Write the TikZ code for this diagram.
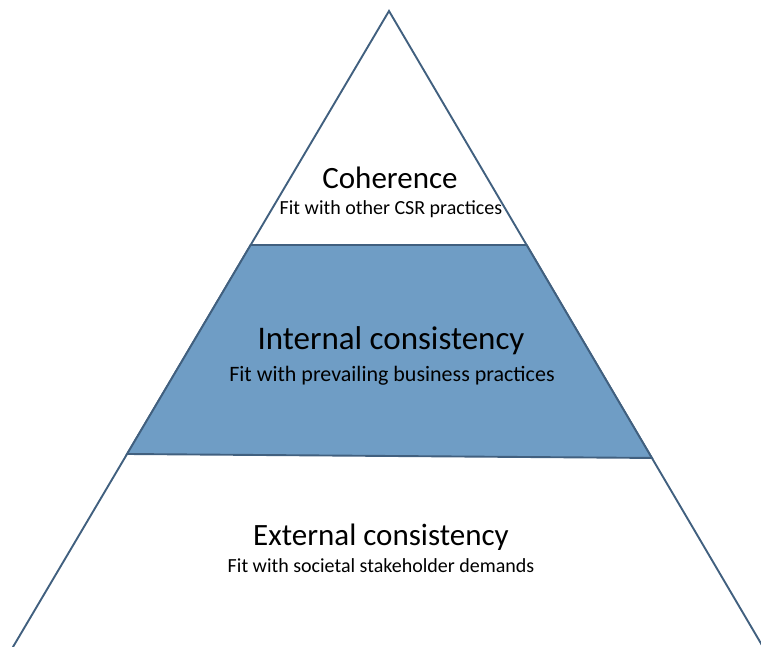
\documentclass[tikz,border=0pt]{standalone}
\usepackage{fontspec}
\usetikzlibrary{calc}
\setmainfont{Carlito}
\definecolor{edge}{HTML}{41607F}
\definecolor{band}{HTML}{6F9DC5}
\begin{document}
\begin{tikzpicture}[x=1pt,y=-1pt,
  outline/.style={draw=edge,line width=1.9pt,line join=miter},
  title/.style={inner sep=0pt,font=\fontsize{31}{34}\selectfont,text=black},
  sub/.style={inner sep=0pt,font=\fontsize{20}{23}\selectfont,text=black}]
\useasboundingbox (0,0) rectangle (761,647);
\coordinate (apex) at (389,11);
\coordinate (bl) at (10,652);
\coordinate (br) at (766,652);
\coordinate (tl) at ($(apex)!0.36505!(bl)$);
\coordinate (tr) at ($(apex)!0.36505!(br)$);
\coordinate (ml) at ($(apex)!0.6911!(bl)$);
\coordinate (mr) at ($(apex)!0.6973!(br)$);
\draw[outline] (bl) -- (apex) -- (br);
\filldraw[outline,fill=band] (tl) -- (tr) -- (mr) -- (ml) -- cycle;
\node[title] (coh) at (390,178) {Coherence};
\node[sub] (cohs) at (391,209) {Fit with other CSR practices};
\node[title,font=\fontsize{33}{36}\selectfont] (int) at (391,341) {Internal consistency};
\node[sub,font=\fontsize{22}{25}\selectfont] (ints) at (392,376) {Fit with prevailing business practices};
\node[title] (ext) at (381,537) {External consistency};
\node[sub] (exts) at (381,566) {Fit with societal stakeholder demands};
\end{tikzpicture}
\end{document}
